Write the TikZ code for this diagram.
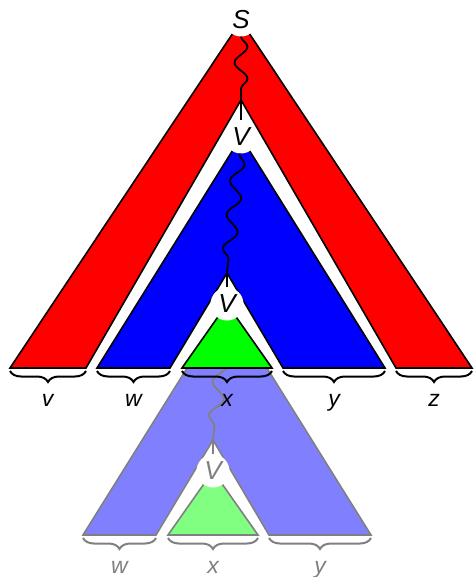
\documentclass[tikz,border=0pt]{standalone}
\usepackage{fontspec}
\setmainfont{Liberation Sans}
\usetikzlibrary{decorations.pathmorphing,decorations.pathreplacing}
\begin{document}
\begin{tikzpicture}[x=1pt,y=-1pt,
  shapeline/.style={line width=1.6pt, line join=miter},
  lab/.style={circle, fill=white, minimum size=33pt, inner sep=0pt, font=\fontsize{26}{26}\selectfont\itshape},
  wavy/.style={line width=1.8pt, decorate, decoration={snake, amplitude=6.5pt, segment length=#1}},
  wavy/.default=32pt,
  brc/.style={line width=2pt, decorate, decoration={brace, mirror, amplitude=11pt}},
  leaf/.style={font=\fontsize{23}{23}\selectfont\itshape, anchor=base},
]
\useasboundingbox (0,0) rectangle (474,577);

% ---------- pumped copy (drawn first, behind) ----------
\begin{scope}[shift={(-14,167)}]
  \path[fill=blue!50, draw=black!50, shapeline]
    (97,368) -- (241,137) -- (385,368) -- (283,368) -- (227,273) -- (170,368) -- cycle;
  \path[fill=green!50, draw=black!50, shapeline]
    (182,368) -- (227,304) -- (272,368) -- cycle;
  \node[lab, fill=none] (cV1) at (241,137) {};
  \node[lab, text=black!50] (cV2) at (227,304) {V};
  \coordinate (ca2) at (227,273);
  \draw[wavy=34pt, black!50] (cV1) -- (ca2);
  \draw[shapeline, black!50] (ca2) -- (cV2);
  \draw[brc, black!50] (97,371) -- (170,371);
  \draw[brc, black!50] (182,371) -- (272,371);
  \draw[brc, black!50] (283,371) -- (385,371);
  \node[leaf, text=black!50] (cw) at (133.5,406) {w};
  \node[leaf, text=black!50] (cx) at (227,406) {x};
  \node[leaf, text=black!50] (cy) at (334,406) {y};
\end{scope}

% ---------- main derivation tree ----------
\path[fill=red, draw=black, shapeline]
  (10,368) -- (241,21) -- (472,368) -- (396,368) -- (241,100) -- (86,368) -- cycle;
\path[fill=blue, draw=black, shapeline]
  (97,368) -- (241,137) -- (385,368) -- (283,368) -- (227,273) -- (170,368) -- cycle;
\path[fill=green, draw=black, shapeline]
  (182,368) -- (227,304) -- (272,368) -- cycle;

\node[lab] (S) at (241,20) {S};
\node[lab] (V1) at (241,137) {V};
\node[lab] (V2) at (227,304) {V};
\coordinate (a1) at (241,100);
\coordinate (a2) at (227,273);

\draw[wavy=32pt] (S) -- (a1);
\draw[shapeline] (a1) -- (V1);
\draw[wavy=34pt] (V1) -- (a2);
\draw[shapeline] (a2) -- (V2);

\draw[brc] (10,371) -- (86,371);
\draw[brc] (97,371) -- (170,371);
\draw[brc] (182,371) -- (272,371);
\draw[brc] (283,371) -- (385,371);
\draw[brc] (396,371) -- (472,371);
\node[leaf] (v) at (47.5,406) {v};
\node[leaf] (w) at (133.5,406) {w};
\node[leaf] (x) at (227,406) {x};
\node[leaf] (y) at (334,406) {y};
\node[leaf] (z) at (434,406) {z};
\end{tikzpicture}
\end{document}
